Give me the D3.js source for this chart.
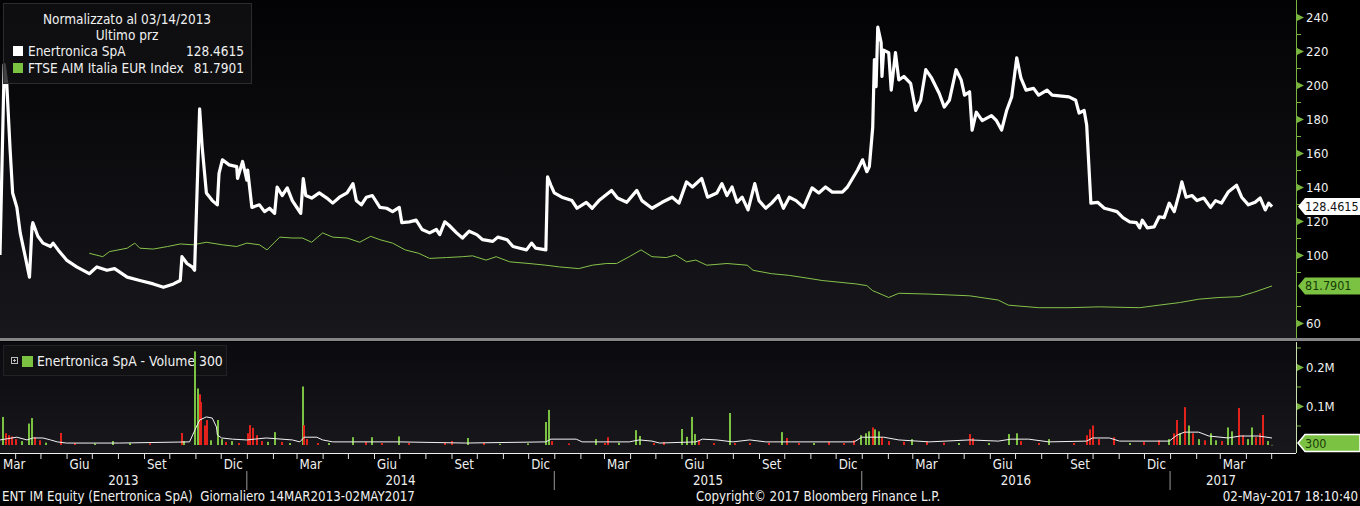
<!DOCTYPE html>
<html><head><meta charset="utf-8">
<script src="https://cdn.jsdelivr.net/npm/d3@7"></script>
<style>
html,body{margin:0;padding:0;background:#000;}
svg{display:block;}
text{font-family:"DejaVu Sans Condensed","Liberation Sans Narrow","Arial Narrow",sans-serif;font-stretch:condensed;}
</style></head><body>
<svg id="chart" width="1360" height="506"></svg>
<script>
// ---------- DATA ----------
const priceDates = ["2013-03-14","2013-03-19","2013-03-22","2013-03-26","2013-03-29","2013-04-03","2013-04-07","2013-04-13","2013-04-18","2013-04-21","2013-04-22","2013-04-28","2013-05-04","2013-05-13","2013-05-16","2013-05-22","2013-06-01","2013-06-13","2013-06-28","2013-07-07","2013-07-19","2013-07-28","2013-08-12","2013-08-27","2013-09-12","2013-09-24","2013-10-06","2013-10-14","2013-10-16","2013-10-22","2013-10-28","2013-10-31","2013-11-06","2013-11-09","2013-11-14","2013-11-21","2013-11-27","2013-11-29","2013-12-03","2013-12-11","2013-12-20","2013-12-21","2013-12-27","2014-01-01","2014-01-02","2014-01-07","2014-01-16","2014-01-22","2014-01-28","2014-02-03","2014-02-06","2014-02-12","2014-02-18","2014-02-24","2014-03-02","2014-03-06","2014-03-09","2014-03-12","2014-03-19","2014-03-28","2014-04-06","2014-04-13","2014-04-21","2014-04-30","2014-05-07","2014-05-11","2014-05-17","2014-05-23","2014-05-30","2014-06-08","2014-06-16","2014-06-23","2014-07-01","2014-07-04","2014-07-13","2014-07-21","2014-07-28","2014-08-06","2014-08-14","2014-08-18","2014-08-24","2014-08-29","2014-09-07","2014-09-14","2014-09-22","2014-10-01","2014-10-08","2014-10-20","2014-10-26","2014-11-06","2014-11-13","2014-11-21","2014-11-29","2014-12-05","2014-12-10","2014-12-22","2014-12-24","2014-12-28","2015-01-01","2015-01-10","2015-01-22","2015-01-28","2015-02-08","2015-02-15","2015-02-23","2015-03-10","2015-03-17","2015-03-28","2015-04-09","2015-04-15","2015-04-27","2015-05-09","2015-05-21","2015-05-29","2015-06-07","2015-06-14","2015-06-25","2015-07-02","2015-07-13","2015-07-19","2015-07-25","2015-07-31","2015-08-06","2015-08-12","2015-08-19","2015-08-27","2015-09-01","2015-09-09","2015-09-16","2015-09-24","2015-09-30","2015-10-07","2015-10-15","2015-10-24","2015-11-03","2015-11-11","2015-11-19","2015-11-27","2015-12-09","2015-12-15","2015-12-21","2015-12-27","2016-01-02","2016-01-07","2016-01-10","2016-01-14","2016-01-16","2016-01-18","2016-01-20","2016-01-24","2016-01-25","2016-01-27","2016-02-02","2016-02-05","2016-02-10","2016-02-14","2016-02-20","2016-02-28","2016-03-05","2016-03-11","2016-03-17","2016-03-24","2016-04-02","2016-04-08","2016-04-14","2016-04-22","2016-04-28","2016-05-02","2016-05-08","2016-05-11","2016-05-16","2016-05-23","2016-06-03","2016-06-09","2016-06-15","2016-06-21","2016-06-27","2016-07-03","2016-07-08","2016-07-14","2016-07-23","2016-07-29","2016-08-08","2016-08-14","2016-09-03","2016-09-11","2016-09-15","2016-09-21","2016-09-24","2016-09-29","2016-10-07","2016-10-15","2016-10-23","2016-10-30","2016-11-06","2016-11-14","2016-11-22","2016-11-26","2016-11-29","2016-12-05","2016-12-13","2016-12-19","2016-12-25","2016-12-31","2017-01-06","2017-01-12","2017-01-15","2017-01-20","2017-01-27","2017-02-02","2017-02-10","2017-02-18","2017-02-24","2017-03-03","2017-03-11","2017-03-21","2017-03-27","2017-04-04","2017-04-12","2017-04-18","2017-04-24","2017-04-28","2017-05-02"];
const priceValues = [100,212,201,162,136.5,128,113,99,87,116.5,119,111,107,105,107,103,97,93,89,93,91,92,87,85,83,81,83,85,99,95,93,91,186,163.5,136.5,132,129.5,148,156,153,152,145,155,144,150,128,129.5,125.5,127.5,124.5,140,135,139.5,132,127.5,124.5,145,135,133.5,136.5,133.5,130.5,134,136.5,142,132,129.5,134,135,128,127.5,125.5,128,119,119.5,120.5,115,113,115,112,119.5,117.5,113,110,114,112,109,108,110.5,109,105,104,103,107,104,103,146,141,136.5,134,132,127.5,131,127.5,132,138,133.5,131,138,132,127.5,131,134,130.5,143,140,145,134,136.5,142,135,140,131,134,126.5,142,132,127.5,130.5,135,127.5,134,132,128,139.5,136.5,140,137,137,140,145,150,156,149,152,175,215,199,234,225,205,220.5,219,197,219,203,205,201,185,191,209,204,195,187,191,209,203,194,196,173.5,184,179,182,179,173.5,185,193,216,204,197,198,194,197,194,193,191,183.5,185,176.5,130.5,131,127.5,126.5,125.5,122,119.5,119,116,120.5,116,116.5,122.5,122,130.5,125.5,136.5,143,134,135,132,133.5,128,132,130.5,137,141,134,129.5,131,133.5,126.5,130.5,128.4615];

const indexDates = ["2013-06-28","2013-07-14","2013-07-22","2013-08-12","2013-08-21","2013-08-27","2013-09-12","2013-09-29","2013-10-14","2013-10-29","2013-11-14","2013-12-03","2013-12-20","2014-01-01","2014-01-16","2014-01-25","2014-02-09","2014-02-24","2014-03-08","2014-03-19","2014-04-01","2014-04-13","2014-04-30","2014-05-15","2014-05-28","2014-06-08","2014-06-23","2014-07-08","2014-07-24","2014-08-06","2014-08-26","2014-09-14","2014-09-26","2014-10-12","2014-10-24","2014-11-09","2014-12-02","2014-12-22","2015-01-07","2015-01-30","2015-02-15","2015-03-04","2015-03-16","2015-03-31","2015-04-14","2015-04-27","2015-05-14","2015-05-25","2015-06-07","2015-06-18","2015-07-01","2015-07-25","2015-08-18","2015-08-25","2015-09-16","2015-10-07","2015-10-27","2015-11-15","2015-12-05","2015-12-25","2016-01-07","2016-01-14","2016-01-19","2016-02-02","2016-02-14","2016-03-21","2016-05-08","2016-06-11","2016-06-23","2016-07-29","2016-09-03","2016-10-09","2016-11-26","2016-12-19","2017-01-12","2017-02-04","2017-02-28","2017-03-24","2017-04-10","2017-05-02"];
const indexValues = [101,99,102,104,107,104,103.5,105,106.5,106,107.5,106,105,107,106,103,110.5,110,110,107.5,113,110.5,110,107.5,111,109,107,103,101,98,98.5,99,99.5,97,99,96,95,94,93,92,94,95,95,99,103,99,98.5,100,96,97,94,95,94,91,89,88,86.5,85,84,83,82,79,78,75,77.5,77,76,73.5,70.5,69,69,69.5,69,70.5,72,74,75,75.5,78,81.7901];

const volumeDates = ["2013-03-18","2013-03-21","2013-03-25","2013-03-28","2013-04-02","2013-04-09","2013-04-18","2013-04-21","2013-04-25","2013-05-01","2013-05-08","2013-05-25","2013-06-11","2013-07-05","2013-07-26","2013-08-15","2013-09-08","2013-10-16","2013-10-19","2013-11-01","2013-11-04","2013-11-06","2013-11-08","2013-11-12","2013-11-15","2013-11-20","2013-11-28","2013-12-02","2013-12-07","2013-12-14","2013-12-23","2014-01-02","2014-01-05","2014-01-08","2014-01-13","2014-01-19","2014-01-26","2014-02-03","2014-02-12","2014-02-21","2014-03-09","2014-03-10","2014-03-14","2014-03-26","2014-04-09","2014-05-07","2014-05-22","2014-05-30","2014-06-11","2014-07-01","2014-07-13","2014-08-24","2014-09-01","2014-09-20","2014-10-10","2014-10-28","2014-12-01","2014-12-22","2014-12-26","2014-12-29","2015-01-19","2015-02-20","2015-03-02","2015-03-06","2015-03-19","2015-04-08","2015-04-13","2015-04-29","2015-05-11","2015-06-02","2015-06-07","2015-06-14","2015-06-17","2015-06-22","2015-07-10","2015-07-29","2015-08-03","2015-08-21","2015-09-13","2015-09-28","2015-10-04","2015-10-18","2015-11-05","2015-11-23","2015-12-11","2015-12-23","2015-12-31","2016-01-06","2016-01-10","2016-01-14","2016-01-17","2016-01-21","2016-01-25","2016-02-02","2016-02-20","2016-03-01","2016-03-19","2016-04-08","2016-04-26","2016-05-08","2016-05-12","2016-05-31","2016-06-24","2016-07-03","2016-07-08","2016-07-29","2016-08-10","2016-09-09","2016-09-24","2016-09-28","2016-10-02","2016-10-09","2016-10-27","2016-11-14","2016-12-01","2016-12-19","2016-12-31","2017-01-06","2017-01-09","2017-01-13","2017-01-19","2017-01-23","2017-01-28","2017-02-04","2017-02-11","2017-02-19","2017-02-25","2017-03-04","2017-03-11","2017-03-16","2017-03-24","2017-03-29","2017-04-04","2017-04-08","2017-04-13","2017-04-18","2017-04-21","2017-04-27","2017-05-02"];
const volumeValues = [72000,30000,25000,22000,15000,10000,55000,69000,20000,12000,6000,31000,5000,4000,10000,5000,4000,31000,10000,240000,145000,130000,110000,50000,64000,12000,64000,15000,8000,10000,5000,30000,51000,44000,25000,10000,8000,33000,8000,5000,150000,51000,15000,5000,5000,20000,8000,20000,5000,22000,5000,5000,10000,18000,5000,3000,4000,59000,90000,10000,4000,15000,5000,20000,6000,38000,23000,5000,8000,41000,21000,72000,28000,12000,5000,82000,5000,5000,6000,33000,18000,5000,5000,8000,5000,12000,25000,30000,35000,45000,40000,35000,20000,10000,8000,15000,10000,6000,5000,28000,18000,5000,28000,30000,10000,5000,15000,5000,25000,40000,50000,15000,20000,5000,8000,12000,15000,30000,64000,30000,97000,50000,30000,15000,12000,30000,12000,10000,45000,35000,95000,25000,15000,45000,20000,30000,77000,10000,300];
const volumeUp = [1,0,0,0,0,1,1,1,0,0,1,0,0,1,1,1,0,0,1,1,1,0,0,0,0,1,1,1,0,1,0,0,0,0,0,0,1,1,0,1,1,0,0,0,1,1,0,1,0,1,0,0,0,1,0,1,1,1,1,0,0,1,0,0,1,1,1,0,0,1,1,1,1,0,0,1,0,0,0,1,0,0,1,0,0,0,1,1,1,0,1,1,0,0,0,1,0,0,1,0,0,1,1,1,0,0,1,0,0,0,0,0,0,1,0,0,1,0,0,1,0,1,0,1,0,1,1,0,1,1,0,0,1,1,0,0,0,1,1];

const maDates = ["2013-03-14","2013-04-03","2013-04-15","2013-04-22","2013-05-04","2013-05-13","2013-05-21","2013-06-01","2013-08-03","2013-10-25","2013-11-02","2013-11-06","2013-11-14","2013-11-21","2013-11-26","2013-11-27","2013-12-02","2013-12-15","2014-01-01","2014-01-24","2014-02-24","2014-03-05","2014-03-10","2014-03-25","2014-04-01","2014-04-13","2014-07-01","2014-09-18","2014-12-22","2014-12-28","2015-01-27","2015-02-03","2015-03-31","2015-04-12","2015-04-27","2015-05-06","2015-06-18","2015-06-26","2015-07-13","2015-08-01","2015-08-21","2015-09-09","2015-10-10","2015-12-23","2016-01-01","2016-01-27","2016-02-14","2016-03-21","2016-05-08","2016-06-11","2016-06-26","2016-07-17","2016-08-10","2016-09-24","2016-10-01","2016-10-21","2016-11-02","2016-12-31","2017-01-09","2017-01-18","2017-02-04","2017-02-16","2017-03-11","2017-03-25","2017-04-16","2017-05-02"];
const maValues = [13000,20000,13000,18000,18000,13000,8000,5000,5000,8000,46000,64000,72000,69000,46000,26000,18000,15000,13000,18000,13000,8000,20000,20000,13000,8000,8000,5000,8000,15000,15000,8000,8000,13000,10000,5000,8000,15000,13000,8000,13000,8000,8000,8000,20000,20000,13000,8000,13000,10000,15000,15000,8000,10000,18000,18000,10000,10000,25000,33000,33000,23000,18000,23000,23000,18000];

const priceTicks = [60,80,100,120,140,160,180,200,220,240];
const priceMinorTicks = [50,70,90,110,130,150,170,190,210,230,250];
const volumeTicks = [100000,200000];
const volumeTickLabels = ["0.1M","0.2M"];
const volumeMinorTicks = [50000,150000,250000];
const monthNames = ["Gen","Feb","Mar","Apr","Mag","Giu","Lug","Ago","Set","Ott","Nov","Dic"];
const labelledMonths = [2,5,8,11];
const years = [2013,2014,2015,2016,2017];
const seriesNames = ["Enertronica SpA","FTSE AIM Italia EUR Index"];
const lastValues = ["128.4615","81.7901"];
const volumeLabel = "Enertronica SpA - Volume 300";
const lastVolume = "300";

// ---------- LAYOUT ----------
const W = 1360, H = 506, plotR = 1296;
const parse = d3.timeParse("%Y-%m-%d");
const svg = d3.select("#chart");
const GREEN = "#7cc242", RED = "#e3231b", AXIS = "#78b43e";

const x = d3.scaleTime().domain([parse("2013-03-14"), parse("2017-05-02")]).range([0, 1272]);
const y = d3.scaleLinear().domain([60, 240]).range([323, 17]);
const yv = d3.scaleLinear().domain([0, 200000]).range([445, 367]);

const defs = svg.append("defs");
const g1 = defs.append("linearGradient").attr("id","bg1").attr("x1",0).attr("y1",0).attr("x2",0).attr("y2",1);
g1.append("stop").attr("offset","0%").attr("stop-color","#030305");
g1.append("stop").attr("offset","100%").attr("stop-color","#17171c");
const g2 = defs.append("linearGradient").attr("id","bg2").attr("x1",0).attr("y1",0).attr("x2",0).attr("y2",1);
g2.append("stop").attr("offset","0%").attr("stop-color","#0b0b0f");
g2.append("stop").attr("offset","100%").attr("stop-color","#18181c");

svg.append("rect").attr("width",W).attr("height",H).attr("fill","#000");
svg.append("rect").attr("x",0).attr("y",0).attr("width",plotR).attr("height",338).attr("fill","url(#bg1)");
svg.append("rect").attr("x",0).attr("y",342).attr("width",plotR).attr("height",111).attr("fill","url(#bg2)");
svg.append("rect").attr("x",0).attr("y",338).attr("width",W).attr("height",3).attr("fill","#858585");

defs.append("clipPath").attr("id","clipMain").append("rect").attr("x",0).attr("y",0).attr("width",plotR).attr("height",338);
defs.append("clipPath").attr("id","clipVol").append("rect").attr("x",0).attr("y",342).attr("width",plotR).attr("height",111);

// ---------- MAIN LINES ----------
const priceData = priceDates.map((d,i)=>({d:parse(d), v:priceValues[i]}));
const indexData = indexDates.map((d,i)=>({d:parse(d), v:indexValues[i]}));
const line = d3.line().x(p=>x(p.d)).y(p=>y(p.v));
const main = svg.append("g").attr("clip-path","url(#clipMain)");
main.append("path").datum(indexData).attr("d",line).attr("fill","none").attr("stroke","#86c24a").attr("stroke-width",1);
main.append("path").datum(priceData).attr("d",line).attr("fill","none").attr("stroke","#ffffff").attr("stroke-width",3.2).attr("stroke-linejoin","round");

// main legend (semi-opaque overlay)
svg.append("rect").attr("x",3.5).attr("y",3.5).attr("width",248).attr("height",80).attr("fill","#111114").attr("fill-opacity",0.8).attr("stroke","#2c2c30");
svg.append("text").attr("x",127).attr("y",24).attr("text-anchor","middle").attr("fill","#f0f0f0").attr("font-size",13.5).text("Normalizzato al 03/14/2013");
svg.append("text").attr("x",127).attr("y",40).attr("text-anchor","middle").attr("fill","#f0f0f0").attr("font-size",13.5).text("Ultimo prz");
[["#ffffff",56],[GREEN,73]].forEach((s,i)=>{
  svg.append("rect").attr("x",13).attr("y",s[1]-10).attr("width",10).attr("height",10).attr("fill",s[0]);
  svg.append("text").attr("x",28).attr("y",s[1]).attr("fill","#f0f0f0").attr("font-size",13.5).text(seriesNames[i]);
  svg.append("text").attr("x",244).attr("y",s[1]).attr("text-anchor","end").attr("fill","#f0f0f0").attr("font-size",13.5).text(lastValues[i]);
});

// volume legend (under the bars)
svg.append("rect").attr("x",3.5).attr("y",345.5).attr("width",223).attr("height",30).attr("fill","#111114").attr("stroke","#222226");
svg.append("rect").attr("x",11.5).attr("y",357.5).attr("width",6).attr("height",6).attr("fill","none").attr("stroke","#bbbbbb");
svg.append("path").attr("d","M13,360.5H16M14.5,359V362").attr("stroke","#bbbbbb").attr("stroke-width",1);
svg.append("rect").attr("x",22).attr("y",356).attr("width",11).attr("height",11).attr("fill",GREEN);
svg.append("text").attr("x",37).attr("y",366).attr("fill","#f0f0f0").attr("font-size",13.8).text(volumeLabel);

// ---------- VOLUME ----------
const vol = svg.append("g").attr("clip-path","url(#clipVol)");
const volData = volumeDates.map((d,i)=>({d:parse(d), v:volumeValues[i], up:volumeUp[i]}));
vol.selectAll("rect.bar").data(volData).enter().append("rect").attr("class","bar")
  .attr("x",p=>Math.round(x(p.d))-1).attr("width",2)
  .attr("y",p=>yv(p.v)).attr("height",p=>Math.max(0.5, yv(0)-yv(p.v)))
  .attr("fill",p=>p.up?GREEN:RED);
const maData = maDates.map((d,i)=>({d:parse(d), v:maValues[i]}));
vol.append("path").datum(maData).attr("d",d3.line().x(p=>x(p.d)).y(p=>yv(p.v)))
  .attr("fill","none").attr("stroke","#f2f2f2").attr("stroke-width",1);

// ---------- RIGHT AXES ----------
const fontAxis = 13;
const flagValues = lastValues.map(Number);
const visiblePriceTicks = priceTicks.filter(t=>flagValues.every(f=>Math.abs(y(t)-y(f))>10));
const yAxis = d3.axisRight(y).tickValues(visiblePriceTicks).tickSize(0).tickPadding(10).tickFormat(d3.format("d"));
const ya = svg.append("g").attr("transform",`translate(${plotR},0)`).call(yAxis);
ya.select(".domain").remove();
ya.selectAll("text").attr("fill","#f0f0f0").attr("font-size",fontAxis);
ya.selectAll(".tick").append("path").attr("d","M1,-3.5L8,0L1,3.5Z").attr("fill",AXIS);
const yMinor = d3.axisRight(y).tickValues(priceMinorTicks.filter(v=>y(v)>=0&&y(v)<=336)).tickSize(5).tickFormat("");
const ym = svg.append("g").attr("transform",`translate(${plotR},0)`).call(yMinor);
ym.select(".domain").remove();
ym.selectAll("line").attr("stroke",AXIS);
svg.append("line").attr("x1",plotR+0.5).attr("x2",plotR+0.5).attr("y1",0).attr("y2",338).attr("stroke",AXIS).attr("stroke-width",1);

const vAxis = d3.axisRight(yv).tickValues(volumeTicks).tickSize(0).tickPadding(10).tickFormat((d,i)=>volumeTickLabels[i]);
const va = svg.append("g").attr("transform",`translate(${plotR},0)`).call(vAxis);
va.select(".domain").remove();
va.selectAll("text").attr("fill","#f0f0f0").attr("font-size",fontAxis);
va.selectAll(".tick").append("path").attr("d","M1,-3.5L8,0L1,3.5Z").attr("fill",AXIS);
const vMinor = d3.axisRight(yv).tickValues(volumeMinorTicks).tickSize(5).tickFormat("");
const vm = svg.append("g").attr("transform",`translate(${plotR},0)`).call(vMinor);
vm.select(".domain").remove();
vm.selectAll("line").attr("stroke",AXIS);
svg.append("line").attr("x1",plotR+0.5).attr("x2",plotR+0.5).attr("y1",342).attr("y2",453).attr("stroke","#c8e0b0").attr("stroke-width",1);

function flag(yc, fill, txt, tcol, border){
  const h = 17, top = yc - h/2;
  svg.append("path").attr("d",`M${plotR+2},${yc}L${plotR+9},${top}L${W},${top}L${W},${top+h}L${plotR+9},${top+h}Z`)
    .attr("fill",fill).attr("stroke",border||"none").attr("stroke-width",border?1.5:0);
  svg.append("text").attr("x",plotR+9).attr("y",yc+4.5).attr("fill",tcol).attr("font-size",12.5).text(txt);
}
flag(y(flagValues[0]), "#ffffff", lastValues[0], "#111");
flag(y(flagValues[1]), GREEN, lastValues[1], "#183a08");
flag(443, GREEN, lastVolume, "#183a08", "#ffffff");

// ---------- BOTTOM AXIS ----------
const fontBottom = 13.2;
svg.append("line").attr("x1",0).attr("x2",plotR).attr("y1",453.5).attr("y2",453.5).attr("stroke","#f0f0f0").attr("stroke-width",1);
const months = d3.timeMonth.range(new Date(2013,2,1), new Date(2017,5,1));
const xAxis = d3.axisBottom(x).tickValues(months.filter(m=>x(m)>=0 && x(m)<=plotR)).tickSize(5).tickFormat("");
const xa = svg.append("g").attr("transform","translate(0,454)").call(xAxis);
xa.select(".domain").remove();
xa.selectAll("line").attr("stroke","#e0e0e0");
months.filter(m=>labelledMonths.includes(m.getMonth())).forEach(m=>{
  const px = Math.max(3, x(m)+3);
  svg.append("text").attr("x",px).attr("y",469).attr("fill","#f0f0f0").attr("font-size",fontBottom).text(monthNames[m.getMonth()]);
});
years.forEach(yr=>{
  const a = Math.max(0, x(new Date(yr,0,1))), b = Math.min(1272, x(new Date(yr+1,0,1)));
  svg.append("text").attr("x",(a+b)/2).attr("y",485).attr("text-anchor","middle").attr("fill","#f0f0f0").attr("font-size",fontBottom).text(yr);
  if (yr>2013) svg.append("line").attr("x1",x(new Date(yr,0,1))).attr("x2",x(new Date(yr,0,1))).attr("y1",471).attr("y2",490).attr("stroke","#9a9a9a");
});

svg.append("text").attr("x",2).attr("y",501).attr("fill","#f0f0f0").attr("font-size",fontBottom).attr("xml:space","preserve").text("ENT IM Equity (Enertronica SpA)  Giornaliero 14MAR2013-02MAY2017");
svg.append("text").attr("x",696).attr("y",501).attr("fill","#f0f0f0").attr("font-size",fontBottom).text("Copyright\u00A9 2017 Bloomberg Finance L.P.");
svg.append("text").attr("x",1358).attr("y",501).attr("text-anchor","end").attr("fill","#f0f0f0").attr("font-size",fontBottom).text("02-May-2017 18:10:40");
</script>
</body></html>
